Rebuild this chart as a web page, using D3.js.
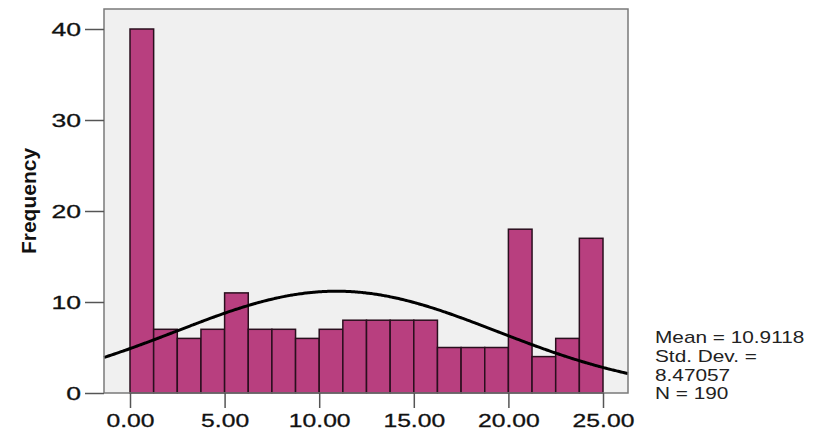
<!DOCTYPE html>
<html>
<head>
<meta charset="utf-8">
<script src="https://cdn.jsdelivr.net/npm/d3@7"></script>
<style>
  html, body { margin: 0; padding: 0; background: #fff; }
  svg { display: block; font-family: "Liberation Sans", Arial, Helvetica, sans-serif; }
</style>
</head>
<body>
<svg id="chart" width="825" height="433"></svg>
<script>
// Histogram: bin lower edges (width 1.25) and their frequencies
const binStarts = [0, 1.25, 2.5, 3.75, 5, 6.25, 7.5, 8.75, 10, 11.25,
                   12.5, 13.75, 15, 16.25, 17.5, 18.75, 20, 21.25, 22.5, 23.75];
const binWidth = 1.25;
const frequencies = [40, 7, 6, 7, 11, 7, 7, 6, 7, 8,
                     8, 8, 8, 5, 5, 5, 18, 4, 6, 17];
const xTicks = [0, 5, 10, 15, 20, 25];
const yTicks = [0, 10, 20, 30, 40];
const statLines = ["Mean = 10.9118", "Std. Dev. =", "8.47057", "N = 190"];
const mean = 10.9118, sd = 8.47057, n = 190;

const svg = d3.select("#chart");

const x = d3.scaleLinear().domain([0, 25]).range([130, 603]);
const y = d3.scaleLinear().domain([0, 40]).range([393, 29]);

// plot frame bounds
const frameLeft = 104, frameRight = 628, frameTop = 9, frameBottom = 393;
const xMin = x.invert(frameLeft), xMax = x.invert(frameRight);

// background panel
svg.append("rect")
  .attr("x", frameLeft).attr("y", frameTop)
  .attr("width", frameRight - frameLeft).attr("height", frameBottom - frameTop)
  .attr("fill", "#f0f0f0");

// bars
svg.append("g").selectAll("rect")
  .data(frequencies)
  .join("rect")
  .attr("x", (d, i) => x(binStarts[i]))
  .attr("y", d => y(d))
  .attr("width", (d, i) => x(binStarts[i] + binWidth) - x(binStarts[i]))
  .attr("height", d => y(0) - y(d))
  .attr("fill", "#b83f7f")
  .attr("stroke", "#2a0f1e")
  .attr("stroke-width", 1.5);

// normal curve scaled to the histogram
const scaleK = n * binWidth / (sd * Math.sqrt(2 * Math.PI));
const curvePts = d3.range(0, 201).map(i => {
  const v = xMin + (xMax - xMin) * i / 200;
  return [v, scaleK * Math.exp(-0.5 * ((v - mean) / sd) ** 2)];
});
svg.append("path")
  .datum(curvePts)
  .attr("fill", "none")
  .attr("stroke", "#000")
  .attr("stroke-width", 3)
  .attr("d", d3.line().x(d => x(d[0])).y(d => y(d[1])).curve(d3.curveBasis));

// frame border
svg.append("rect")
  .attr("x", frameLeft).attr("y", frameTop)
  .attr("width", frameRight - frameLeft).attr("height", frameBottom - frameTop)
  .attr("fill", "none")
  .attr("stroke", "#7a7a7a")
  .attr("stroke-width", 1.5);

// y axis
const yAxis = d3.axisLeft(y).tickValues(yTicks).tickSize(19).tickPadding(4).tickFormat(d3.format("d"));
const gy = svg.append("g").attr("transform", `translate(${frameLeft},0)`).call(yAxis);
gy.select(".domain").remove();
gy.selectAll(".tick line").attr("stroke", "#555").attr("stroke-width", 1.5);
gy.selectAll(".tick text")
  .attr("font-size", 19).attr("fill", "#111").attr("font-family", "Liberation Sans, Arial, sans-serif")
  .attr("stroke", "#111").attr("stroke-width", 0.3)
  .attr("x", 0)
  .attr("transform", "translate(-23,0) scale(1.4,1)");

// x axis
const xAxis = d3.axisBottom(x).tickValues(xTicks).tickSize(15).tickPadding(6).tickFormat(d3.format(".2f"));
const gx = svg.append("g").attr("transform", `translate(0,${frameBottom})`).call(xAxis);
gx.select(".domain").remove();
gx.selectAll(".tick line").attr("stroke", "#555").attr("stroke-width", 1.5);
gx.selectAll(".tick text")
  .attr("font-size", 19).attr("fill", "#111").attr("font-family", "Liberation Sans, Arial, sans-serif")
  .attr("stroke", "#111").attr("stroke-width", 0.3)
  .attr("transform", "scale(1.3,1)");

// y axis title
svg.append("text")
  .attr("transform", "translate(36,201) rotate(-90)")
  .attr("text-anchor", "middle")
  .attr("font-size", 21)
  .attr("font-weight", "bold")
  .attr("fill", "#111")
  .text("Frequency");

// summary statistics
svg.append("g").selectAll("text")
  .data(statLines)
  .join("text")
  .attr("transform", (d, i) => `translate(655,${343 + i * 18.8}) scale(1.3,1)`)
  .attr("font-size", 16)
  .attr("fill", "#222")
  .text(d => d);
</script>
</body>
</html>
